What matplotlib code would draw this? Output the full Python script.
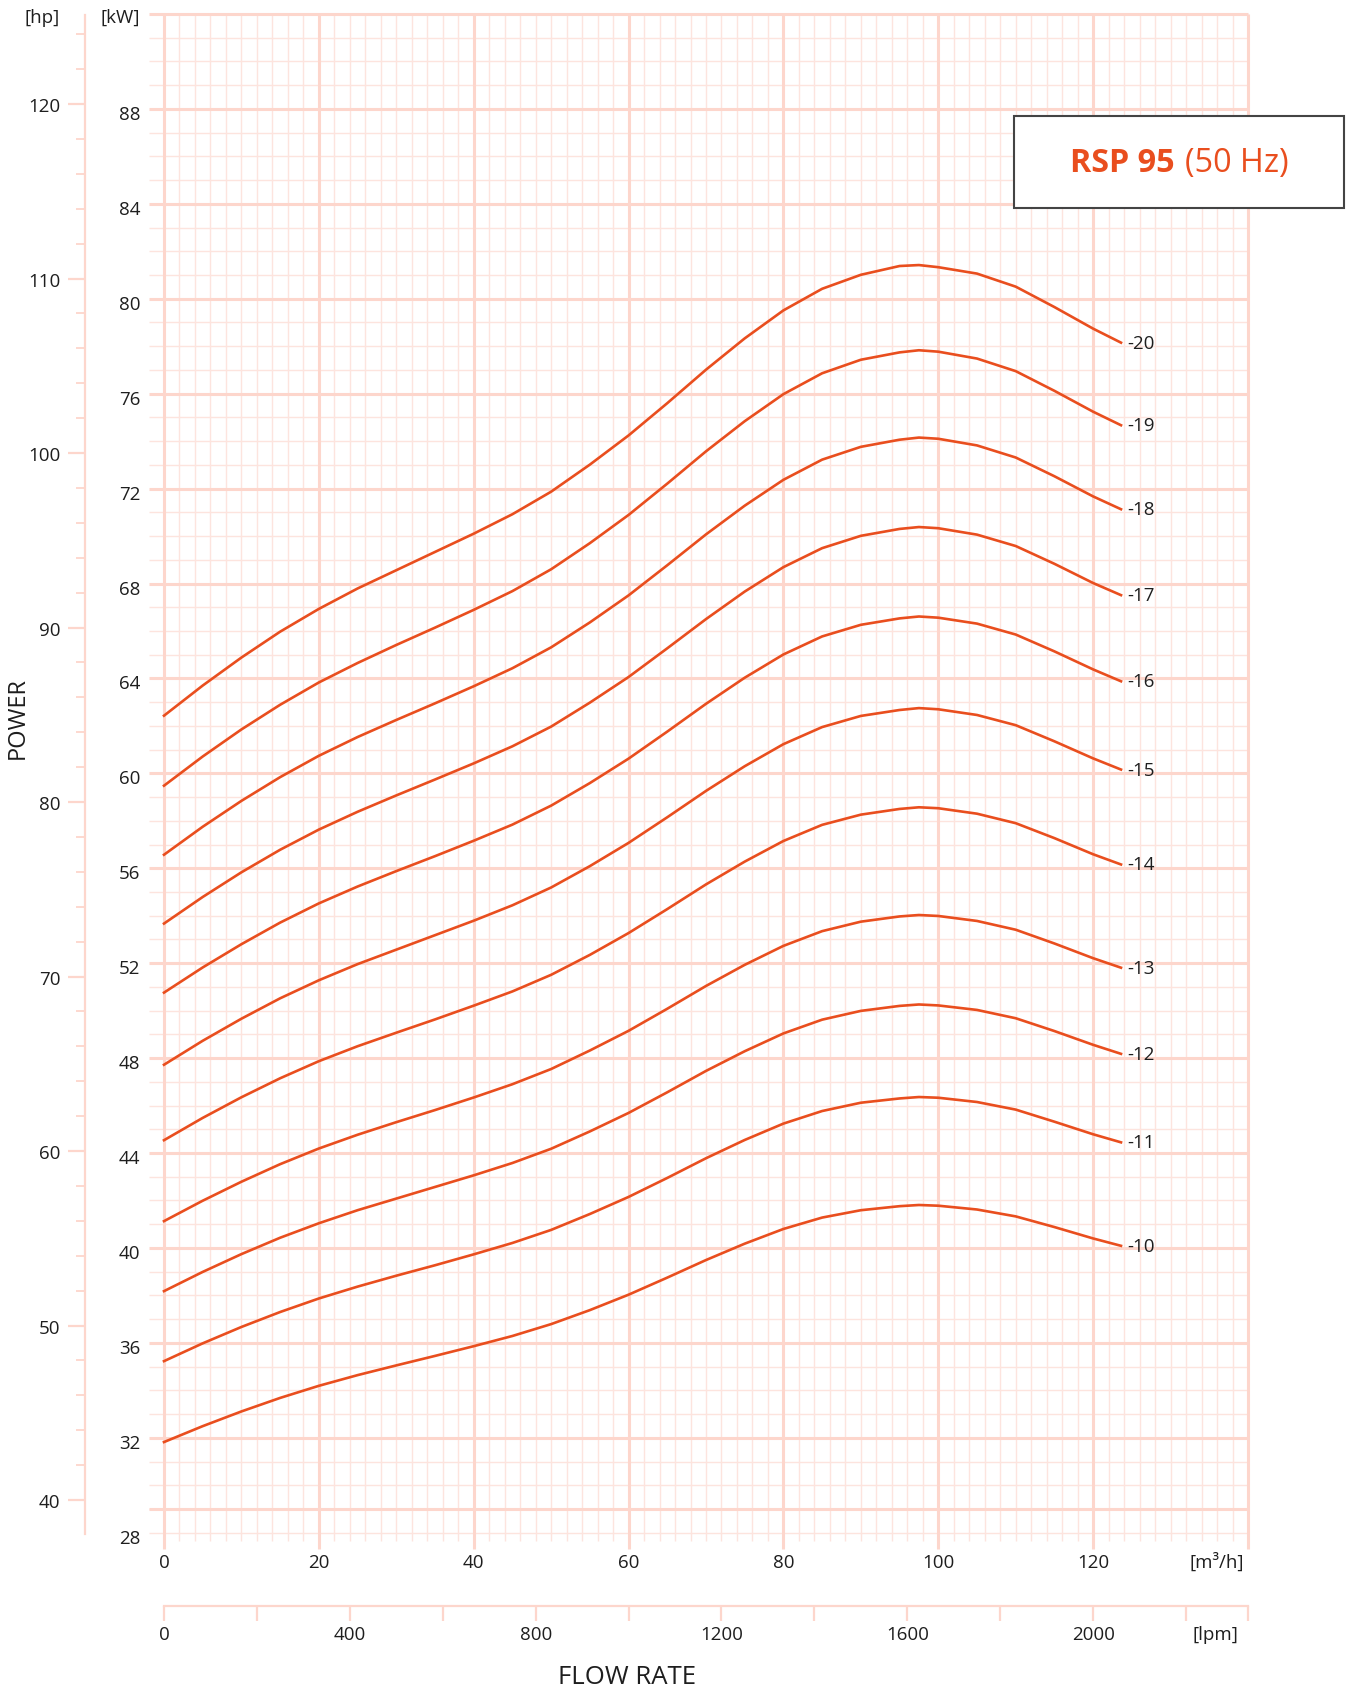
import matplotlib.pyplot as plt
from matplotlib.patches import Rectangle
from matplotlib.ticker import FixedLocator, FixedFormatter
import matplotlib.transforms as mtransforms

W, H = 1348, 1690

# flow rate points [m3/h] shared by all curves
flow = [0, 5, 10, 15, 20, 25, 30, 35, 40, 45, 50, 55, 60, 65, 70, 75, 80, 85, 90, 95, 97.5, 100, 105, 110, 115, 120, 123.6]

# power [kW] for each number of stages
p20 = [62.43, 63.70, 64.88, 65.97, 66.93, 67.79, 68.56, 69.33, 70.10, 70.92, 71.87, 73.01, 74.24, 75.60, 77.01, 78.33, 79.51, 80.42, 81.01, 81.38, 81.42, 81.33, 81.06, 80.51, 79.65, 78.74, 78.15]
p19 = [59.48, 60.71, 61.85, 62.89, 63.83, 64.65, 65.41, 66.14, 66.89, 67.68, 68.60, 69.70, 70.89, 72.21, 73.57, 74.84, 75.98, 76.86, 77.43, 77.74, 77.83, 77.77, 77.48, 76.95, 76.12, 75.24, 74.67]
p18 = [56.57, 57.75, 58.84, 59.84, 60.74, 61.53, 62.25, 62.95, 63.67, 64.43, 65.31, 66.36, 67.50, 68.77, 70.07, 71.28, 72.37, 73.22, 73.76, 74.06, 74.15, 74.10, 73.82, 73.31, 72.52, 71.67, 71.13]
p17 = [53.67, 54.79, 55.83, 56.78, 57.63, 58.38, 59.07, 59.74, 60.42, 61.14, 61.97, 62.98, 64.06, 65.27, 66.50, 67.66, 68.69, 69.49, 70.01, 70.30, 70.38, 70.33, 70.06, 69.58, 68.83, 68.02, 67.51]
p16 = [50.76, 51.82, 52.80, 53.71, 54.52, 55.23, 55.88, 56.51, 57.16, 57.84, 58.64, 59.59, 60.62, 61.76, 62.93, 64.03, 65.01, 65.77, 66.26, 66.53, 66.61, 66.56, 66.31, 65.85, 65.14, 64.38, 63.88]
p15 = [47.72, 48.73, 49.66, 50.52, 51.28, 51.96, 52.57, 53.18, 53.79, 54.44, 55.19, 56.09, 57.07, 58.15, 59.26, 60.30, 61.23, 61.95, 62.42, 62.67, 62.75, 62.70, 62.46, 62.03, 61.35, 60.63, 60.16]
p14 = [44.54, 45.48, 46.35, 47.15, 47.87, 48.50, 49.07, 49.63, 50.21, 50.81, 51.51, 52.35, 53.27, 54.28, 55.32, 56.28, 57.15, 57.83, 58.26, 58.50, 58.57, 58.53, 58.30, 57.90, 57.27, 56.59, 56.16]
p13 = [41.13, 41.99, 42.79, 43.53, 44.19, 44.77, 45.30, 45.81, 46.34, 46.90, 47.54, 48.32, 49.15, 50.08, 51.04, 51.93, 52.73, 53.35, 53.75, 53.97, 54.03, 53.99, 53.78, 53.41, 52.83, 52.21, 51.81]
p12 = [38.18, 38.99, 39.74, 40.43, 41.04, 41.59, 42.08, 42.57, 43.06, 43.58, 44.18, 44.91, 45.69, 46.56, 47.46, 48.29, 49.04, 49.62, 49.99, 50.20, 50.26, 50.22, 50.03, 49.68, 49.14, 48.56, 48.18]
p11 = [35.23, 35.98, 36.67, 37.30, 37.87, 38.37, 38.83, 39.27, 39.73, 40.21, 40.76, 41.43, 42.15, 42.95, 43.78, 44.55, 45.24, 45.77, 46.12, 46.30, 46.36, 46.33, 46.15, 45.83, 45.32, 44.79, 44.45]
p10 = [31.82, 32.49, 33.11, 33.68, 34.19, 34.64, 35.05, 35.45, 35.86, 36.29, 36.79, 37.38, 38.03, 38.75, 39.49, 40.18, 40.80, 41.28, 41.59, 41.76, 41.81, 41.78, 41.62, 41.33, 40.88, 40.40, 40.09]

curves = [p20, p19, p18, p17, p16, p15, p14, p13, p12, p11, p10]
curve_labels = ["-20", "-19", "-18", "-17", "-16", "-15", "-14", "-13", "-12", "-11", "-10"]

kw_ticks = list(range(28, 89, 4))
hp_ticks = list(range(40, 121, 10))
m3h_ticks = list(range(0, 121, 20))
lpm_ticks = list(range(0, 2001, 400))

RED = "#e94e1e"
GRID_MAJ = "#fdd6cc"
GRID_MIN = "#fde4de"
TXT = "#1e1e1e"

plt.rcParams['font.family'] = ['Open Sans', 'DejaVu Sans']

fig = plt.figure(figsize=(W / 100, H / 100), dpi=100)


def box(l, t, r, b):
	# pixel box (from top-left) -> figure fraction
	return [l / W, 1 - b / H, (r - l) / W, (b - t) / H]


# main chart: kW vs m3/h
ax = fig.add_axes(box(148.5, 15, 1248, 1549.6))
ax.set_xlim(-2, 140)
ax.set_ylim(27.33, 92)
for s in ax.spines.values():
	s.set_visible(False)

minor_x = [x for x in range(2, 140, 2) if x % 20]
major_x = list(range(0, 141, 20))
minor_y = [y for y in range(28, 92) if y % 4]
major_y = list(range(32, 93, 4)) + [29]

ax.vlines(minor_x, 27.66, 92, color=GRID_MIN, lw=1.0, zorder=1)
ax.hlines(minor_y + [28], -2, 140, color=GRID_MIN, lw=1.0, zorder=1)
ax.hlines(major_y, -2, 140, color=GRID_MAJ, lw=2.2, zorder=2, clip_on=False)
ax.vlines(major_x, 27.33, 92, color=GRID_MAJ, lw=2.2, zorder=2, clip_on=False)

for p, lab in zip(curves, curve_labels):
	ax.plot(flow, p, color=RED, lw=1.9, zorder=5, solid_joinstyle='round')
	ax.text(124.4, p[-1], lab, fontsize=13.5, color=TXT, va='center', ha='left')

ax.set_yticks(kw_ticks)
ax.set_xticks(m3h_ticks)
ax.tick_params(axis='y', length=0, pad=6, labelsize=13.5, labelcolor=TXT)
ax.tick_params(axis='x', length=0, pad=3, labelsize=13.5, labelcolor=TXT)
off = mtransforms.ScaledTranslation(0, -3 / 100, fig.dpi_scale_trans)
for lbl in ax.get_yticklabels():
	lbl.set_transform(lbl.get_transform() + off)

# hp axis on the far left
axh = fig.add_axes(box(85, 15, 86, 1549.6))
axh.set_ylim(37.215, 125.158)
axh.set_xticks([])
axh.patch.set_visible(False)
for k in ['top', 'right', 'bottom']:
	axh.spines[k].set_visible(False)
axh.spines['left'].set_color(GRID_MAJ)
axh.spines['left'].set_linewidth(1.6)
axh.spines['left'].set_bounds(38.05, 125.1)
axh.yaxis.set_major_locator(FixedLocator(hp_ticks))
axh.yaxis.set_minor_locator(FixedLocator(list(range(42, 125, 2))))
axh.tick_params(axis='y', which='major', length=12.2, width=1.6, color=GRID_MAJ, pad=5.5, labelsize=13.5, labelcolor=TXT)
axh.tick_params(axis='y', which='minor', length=6.5, width=1.3, color=GRID_MAJ)

# lpm axis at the bottom
axl = fig.add_axes(box(148.5, 1600, 1248, 1607))
axl.set_xlim(-2 * 50 / 3, 140 * 50 / 3)
axl.set_yticks([])
axl.patch.set_visible(False)
for k in ['top', 'right', 'left']:
	axl.spines[k].set_visible(False)
axl.spines['bottom'].set_color(GRID_MAJ)
axl.spines['bottom'].set_linewidth(1.6)
axl.spines['bottom'].set_bounds(0, 140 * 50 / 3)
lpm_all = list(range(0, 2201, 200)) + [140 * 50 / 3]
axl.xaxis.set_major_locator(FixedLocator(lpm_all))
axl.xaxis.set_major_formatter(FixedFormatter([str(v) if v in lpm_ticks else "" for v in lpm_all]))
axl.tick_params(axis='x', length=10.8, width=1.6, color=GRID_MAJ, pad=3, labelsize=13.5, labelcolor=TXT)

# axis titles and units
fig.text(60 / W, 1 - 18 / H, "[hp]", fontsize=13.5, color=TXT, ha='right', va='center')
fig.text(140 / W, 1 - 18 / H, "[kW]", fontsize=13.5, color=TXT, ha='right', va='center')
fig.text(1217 / W, 1 - 1562 / H, "[m³/h]", fontsize=13.5, color=TXT, ha='center', va='center')
fig.text(1215 / W, 1 - 1635 / H, "[lpm]", fontsize=13.5, color=TXT, ha='center', va='center')
fig.text(627 / W, 1 - 1678 / H, "FLOW RATE", fontsize=18.5, color=TXT, ha='center', va='center')
fig.text(18 / W, 1 - 718 / H, "POWER", fontsize=17, color=TXT, ha='center', va='center', rotation=90)

# model box
fig.patches.append(Rectangle((1014 / W, 1 - 209 / H), 330 / W, 92 / H, transform=fig.transFigure,
	facecolor='white', edgecolor='#444444', lw=1.5, zorder=10))
fig.text(1175 / W, 1 - 172 / H, "RSP 95", fontsize=23.3, fontweight='bold', color=RED, ha='right', va='baseline', zorder=11)
fig.text(1185 / W, 1 - 172 / H, "(50 Hz)", fontsize=23.3, color=RED, ha='left', va='baseline', zorder=11)

fig.savefig("out.png", dpi=100)
